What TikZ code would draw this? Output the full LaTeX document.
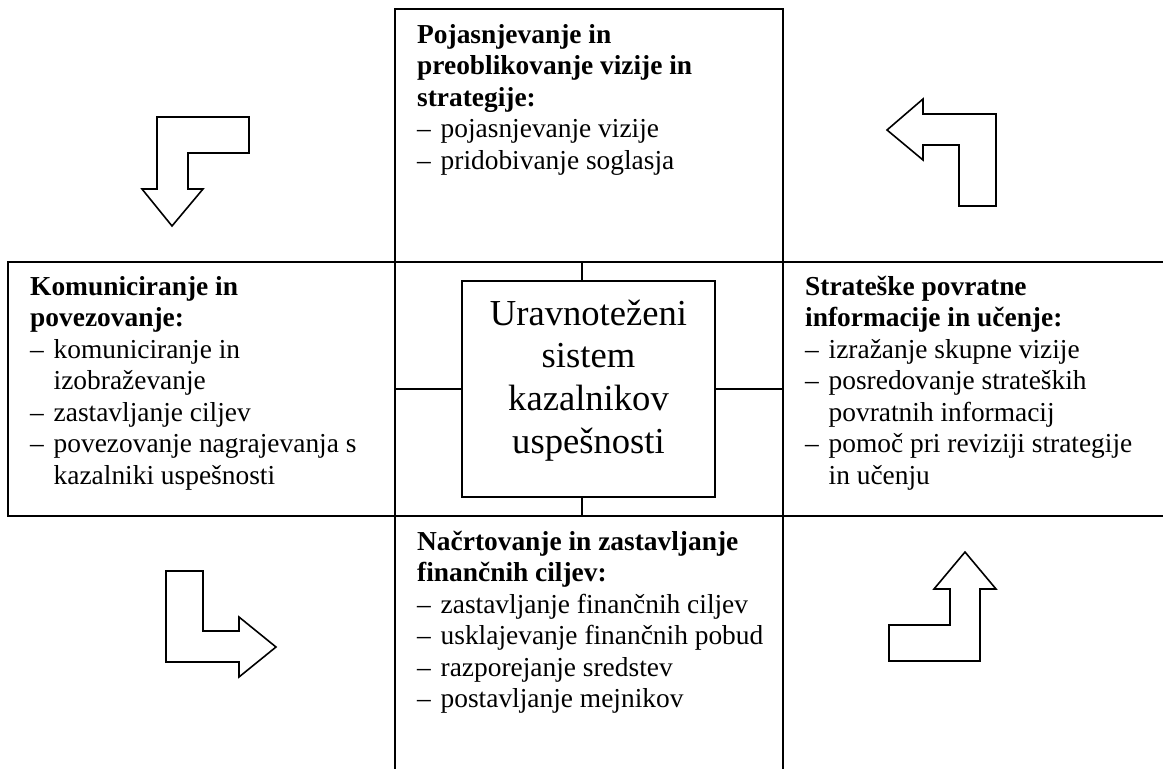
\documentclass[tikz,border=0pt]{standalone}
\usepackage{fontspec}
\setmainfont{Liberation Serif}
% list entries with a hanging dash
\newcommand{\dashitem}[1]{\makebox[23.5pt][l]{–}#1}
\newcommand{\hangline}[1]{\hspace*{23.5pt}#1}
\begin{document}
\begin{tikzpicture}[x=1pt,y=-1pt,
  boxline/.style={line width=1.6pt},
  turnarrow/.style={line width=1.6pt, line join=miter},
  bodytext/.style={anchor=north west, inner sep=0pt, align=left,
    font=\fontsize{27.4}{31.5}\selectfont},
  bigtext/.style={anchor=north, inner sep=0pt, align=center,
    font=\fontsize{36.6}{42.7}\selectfont}]
\useasboundingbox (0,0) rectangle (1163,769);

% cross-shaped frame of the four fields
\draw[boxline] (395,769) -- (395,9) -- (783,9) -- (783,769);
\draw[boxline] (1163,262) -- (8,262) -- (8,516) -- (1163,516);

% central box and its joins to the fields
\node[draw, boxline, minimum width=253pt, minimum height=216pt, inner sep=0pt] (core) at (588.5,389) {};
\node[bigtext] (coretext) at (588.5,295.1)
  {\strut Uravnoteženi\\sistem\\kazalnikov\\uspešnosti};
\coordinate (topjoin) at (582,262);
\coordinate (botjoin) at (582,516);
\coordinate (leftjoin) at (395,389);
\coordinate (rightjoin) at (783,389);
\draw[boxline] (core.north -| topjoin) -- (topjoin);
\draw[boxline] (core.south -| botjoin) -- (botjoin);
\draw[boxline] (core.west) -- (leftjoin);
\draw[boxline] (core.east) -- (rightjoin);

% field texts
\node[bodytext] (vision) at (417,20.95)
  {\strut\textbf{Pojasnjevanje in}\\
   \textbf{preoblikovanje vizije in}\\
   \textbf{strategije:}\\
   \dashitem{pojasnjevanje vizije}\\
   \dashitem{pridobivanje soglasja}};
\node[bodytext] (communication) at (30,272.95)
  {\strut\textbf{Komuniciranje in}\\
   \textbf{povezovanje:}\\
   \dashitem{komuniciranje in}\\
   \hangline{izobraževanje}\\
   \dashitem{zastavljanje ciljev}\\
   \dashitem{povezovanje nagrajevanja s}\\
   \hangline{kazalniki uspešnosti}};
\node[bodytext] (feedback) at (805,272.95)
  {\strut\textbf{Strateške povratne}\\
   \textbf{informacije in učenje:}\\
   \dashitem{izražanje skupne vizije}\\
   \dashitem{posredovanje strateških}\\
   \hangline{povratnih informacij}\\
   \dashitem{pomoč pri reviziji strategije}\\
   \hangline{in učenju}};
\node[bodytext] (planning) at (417,527.95)
  {\strut\textbf{Načrtovanje in zastavljanje}\\
   \textbf{finančnih ciljev:}\\
   \dashitem{zastavljanje finančnih ciljev}\\
   \dashitem{usklajevanje finančnih pobud}\\
   \dashitem{razporejanje sredstev}\\
   \dashitem{postavljanje mejnikov}};

% bent block arrows of the cycle
\draw[turnarrow] (157,117) -- (249,117) -- (249,153) -- (188,153) -- (188,189)
  -- (203,189) -- (172,226) -- (142,189) -- (157,189) -- cycle;
\draw[turnarrow] (887,130) -- (923,99) -- (923,114) -- (996,114) -- (996,206)
  -- (959,206) -- (959,145) -- (923,145) -- (923,160) -- cycle;
\draw[turnarrow] (166,571) -- (203,571) -- (203,631) -- (239,631) -- (239,617)
  -- (276,647) -- (239,677) -- (239,662) -- (166,662) -- cycle;
\draw[turnarrow] (965,552) -- (996,589) -- (980,589) -- (980,661) -- (889,661)
  -- (889,625) -- (950,625) -- (950,589) -- (934,589) -- cycle;
\end{tikzpicture}
\end{document}
